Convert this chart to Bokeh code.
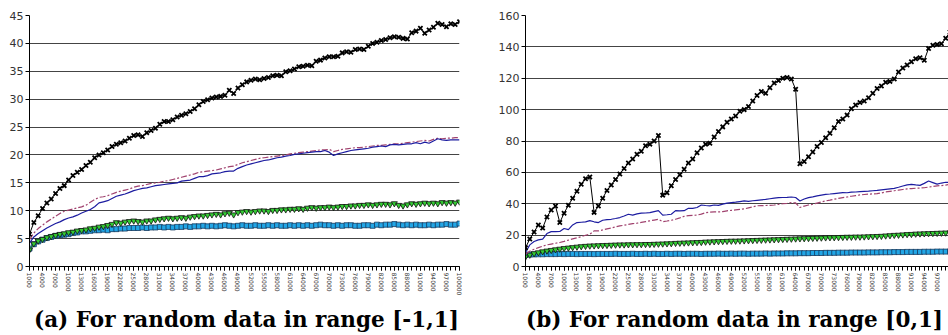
import math
from bokeh.plotting import figure
from bokeh.layouts import row, column
from bokeh.models import Range1d, FixedTicker, NumeralTickFormatter, Div
from bokeh.embed import file_html
from bokeh.resources import INLINE

# categories: array sizes 1000 .. 100000
sizes = list(range(1000, 100001, 1000))
label_ticks = list(range(1000, 100001, 3000))

# ---------- (a) random data in range [-1,1] ----------
a_black = [5.8, 7.9, 9.1, 10.4, 11.4, 12.1, 13.1, 14.0, 14.5, 15.5,
           16.3, 16.9, 17.4, 18.1, 18.7, 19.5, 20.0, 20.4, 20.9, 21.5,
           21.9, 22.2, 22.5, 23.0, 23.5, 23.6, 23.3, 24.0, 24.4, 24.8,
           25.5, 26.0, 26.0, 26.3, 26.8, 27.1, 27.4, 27.8, 28.3, 29.0,
           29.6, 29.9, 30.2, 30.4, 30.5, 30.7, 31.6, 31.0, 32.0, 32.6,
           33.1, 33.4, 33.6, 33.5, 33.7, 33.9, 34.2, 34.3, 34.2, 34.9,
           35.1, 35.4, 35.8, 35.9, 36.1, 36.0, 36.8, 37.0, 37.4, 37.6,
           37.6, 37.7, 38.3, 38.5, 38.4, 38.9, 39.0, 38.9, 39.5, 40.0,
           40.2, 40.5, 40.7, 41.0, 41.2, 41.1, 40.9, 40.8, 41.9, 42.2,
           42.7, 41.8, 42.4, 42.9, 43.6, 43.4, 43.0, 43.5, 43.4, 43.9]
a_blue = [4.2, 5.3, 5.9, 6.4, 6.9, 7.3, 7.7, 8.0, 8.4, 8.7,
          8.9, 9.2, 9.6, 9.9, 10.2, 10.7, 11.4, 11.6, 11.8, 12.2,
          12.6, 12.8, 13.0, 13.3, 13.6, 13.8, 14.0, 14.1, 14.3, 14.5,
          14.6, 14.7, 14.8, 14.9, 15.0, 15.3, 15.4, 15.5, 15.8, 16.1,
          16.1, 16.3, 16.6, 16.7, 16.8, 17.0, 17.1, 17.1, 17.6, 17.9,
          18.2, 18.4, 18.6, 18.8, 19.0, 19.1, 19.3, 19.5, 19.6, 19.8,
          19.9, 20.1, 20.2, 20.3, 20.4, 20.5, 20.6, 20.6, 20.8, 20.5,
          19.9, 20.2, 20.4, 20.6, 20.8, 20.9, 21.0, 21.1, 21.2, 21.4,
          21.5, 21.6, 21.5, 21.8, 21.9, 21.8, 21.9, 22.0, 22.0, 22.2,
          22.0, 22.3, 22.1, 22.5, 22.9, 22.7, 22.6, 22.7, 22.7, 22.7]
a_purple = [4.8, 6.0, 6.8, 7.4, 8.0, 8.5, 9.0, 9.5, 9.9, 10.1,
            10.3, 10.5, 10.7, 11.0, 11.5, 12.0, 12.4, 12.5, 12.7, 13.0,
            13.3, 13.5, 13.7, 13.9, 14.2, 14.4, 14.5, 14.7, 14.9, 15.0,
            15.1, 15.3, 15.4, 15.6, 15.8, 16.0, 16.2, 16.4, 16.6, 16.9,
            17.0, 17.1, 17.2, 17.3, 17.5, 17.7, 17.9, 18.0, 18.3, 18.6,
            18.8, 19.0, 19.2, 19.4, 19.5, 19.6, 19.7, 19.8, 19.9, 20.0,
            20.2, 20.3, 20.4, 20.5, 20.6, 20.7, 20.8, 20.9, 20.9, 21.0,
            20.6, 20.8, 21.0, 21.1, 21.2, 21.3, 21.3, 21.4, 21.5, 21.6,
            21.7, 21.7, 21.8, 21.9, 22.0, 22.0, 22.1, 22.2, 22.3, 22.4,
            22.5, 22.6, 22.5, 22.8, 23.0, 22.9, 23.0, 23.0, 23.1, 23.1]
a_green = [3.0, 4.1, 4.6, 4.9, 5.2, 5.4, 5.6, 5.8, 5.9, 6.1,
           6.2, 6.4, 6.5, 6.6, 6.8, 6.9, 7.1, 7.2, 7.4, 7.6,
           7.9, 7.8, 8.0, 8.1, 8.2, 8.1, 8.0, 8.2, 8.2, 8.4,
           8.5, 8.6, 8.7, 8.6, 8.7, 8.8, 8.7, 8.9, 9.0, 9.1,
           9.1, 9.2, 9.3, 9.4, 9.3, 9.5, 9.6, 9.3, 9.7, 9.8,
           9.9, 9.8, 9.9, 10.0, 10.0, 9.9, 10.1, 10.1, 10.2, 10.2,
           10.3, 10.3, 10.4, 10.3, 10.5, 10.6, 10.5, 10.6, 10.6, 10.7,
           10.6, 10.7, 10.8, 10.8, 10.9, 10.9, 11.0, 11.0, 11.1, 11.0,
           11.1, 11.2, 11.2, 11.1, 11.3, 11.0, 10.9, 11.1, 11.3, 11.2,
           11.3, 11.4, 11.3, 11.4, 11.3, 11.5, 11.4, 11.5, 11.4, 11.6]
a_cyan = [3.2, 4.0, 4.5, 4.8, 5.1, 5.3, 5.5, 5.6, 5.7, 5.8,
          6.0, 6.1, 6.3, 6.3, 6.4, 6.5, 6.5, 6.6, 6.5, 6.7,
          6.7, 6.8, 6.8, 6.9, 6.9, 6.9, 7.0, 6.9, 7.0, 7.0,
          7.1, 7.0, 7.1, 7.0, 7.1, 7.1, 7.2, 7.1, 7.2, 7.2,
          7.3, 7.2, 7.3, 7.2, 7.3, 7.4, 7.3, 7.2, 7.3, 7.4,
          7.3, 7.3, 7.4, 7.3, 7.3, 7.4, 7.3, 7.4, 7.3, 7.3,
          7.4, 7.3, 7.4, 7.3, 7.4, 7.3, 7.4, 7.5, 7.4, 7.4,
          7.3, 7.4, 7.3, 7.4, 7.4, 7.3, 7.3, 7.4, 7.4, 7.3,
          7.5, 7.4, 7.5, 7.5, 7.6, 7.5, 7.4, 7.5, 7.4, 7.5,
          7.4, 7.4, 7.5, 7.4, 7.5, 7.5, 7.6, 7.5, 7.5, 7.7]

# ---------- (b) random data in range [0,1] ----------
b_black = [12.0, 17.5, 22.0, 26.5, 24.5, 31.5, 36.0, 38.5, 28.0, 34.0,
           39.0, 43.5, 48.0, 52.5, 56.0, 57.0, 34.5, 38.5, 43.5, 48.5,
           52.0, 55.5, 59.0, 62.5, 66.0, 68.5, 71.5, 73.5, 77.0, 78.0,
           80.0, 83.5, 45.5, 47.0, 51.5, 55.5, 58.5, 62.0, 66.0, 68.5,
           72.5, 75.5, 78.0, 78.5, 82.5, 86.0, 89.0, 92.0, 94.0, 96.0,
           99.0, 100.0, 102.0, 105.5, 109.0, 111.5, 110.5, 114.0, 117.0, 118.5,
           120.0, 120.5, 119.5, 113.0, 65.5, 67.0, 70.0, 73.0, 76.5, 79.0,
           82.0, 85.0, 88.5, 92.5, 94.0, 96.5, 100.5, 103.0, 104.5, 105.5,
           107.5, 110.5, 113.5, 115.0, 117.5, 118.0, 119.5, 124.0, 126.5, 128.5,
           130.5, 132.5, 133.0, 131.5, 139.0, 141.0, 141.5, 142.0, 145.5, 149.5]
b_blue = [8.9, 13.8, 15.9, 17.0, 17.4, 21.0, 22.2, 22.2, 22.3, 24.2,
          23.5, 26.5, 28.0, 28.2, 28.4, 29.2, 28.5, 28.0, 29.5, 29.9,
          30.1, 30.6, 31.2, 32.2, 33.3, 32.8, 33.5, 34.0, 34.1, 34.3,
          35.0, 35.6, 32.8, 33.0, 33.3, 35.6, 35.4, 35.6, 37.1, 37.0,
          37.6, 39.2, 38.9, 38.7, 39.2, 39.0, 39.8, 40.4, 40.7, 41.0,
          41.4, 41.8, 41.5, 41.9, 42.2, 42.5, 42.8, 43.2, 43.6, 43.9,
          44.0, 44.1, 44.3, 44.0, 41.8, 43.0, 43.9, 44.4, 45.0, 45.5,
          46.0, 46.2, 46.5, 46.8, 47.1, 47.0, 47.4, 47.5, 47.7, 47.9,
          48.0, 48.3, 48.5, 48.9, 49.2, 49.5, 49.8, 50.5, 51.3, 52.0,
          52.4, 52.0, 51.7, 53.0, 54.5, 53.5, 52.5, 53.2, 53.7, 53.6]
b_purple = [8.0, 9.8, 11.0, 12.0, 12.9, 13.8, 14.3, 14.8, 15.3, 16.0,
            16.8, 17.6, 18.3, 19.0, 19.9, 20.6, 22.7, 22.7, 23.3, 24.0,
            24.5, 25.2, 25.9, 26.3, 26.8, 27.3, 27.6, 28.1, 28.6, 29.1,
            29.6, 30.1, 28.6, 29.0, 29.5, 30.1, 31.0, 32.0, 32.4, 32.6,
            32.8, 33.4, 34.3, 34.6, 34.8, 34.8, 35.0, 35.5, 35.8, 36.1,
            36.4, 36.7, 37.4, 38.0, 38.7, 38.8, 38.9, 39.0, 39.2, 39.6,
            40.0, 40.3, 40.7, 40.5, 37.6, 38.5, 39.2, 39.7, 40.4, 41.1,
            41.8, 42.3, 42.9, 43.4, 43.9, 44.3, 44.8, 45.2, 45.6, 45.9,
            46.1, 46.3, 46.4, 46.9, 47.5, 47.9, 48.3, 48.7, 49.1, 49.5,
            49.7, 49.9, 50.0, 50.2, 50.6, 51.0, 51.4, 51.6, 51.9, 52.5]
b_green = [6.2, 7.4, 8.3, 8.9, 9.5, 10.0, 10.4, 10.8, 11.2, 11.6,
           11.9, 12.2, 12.5, 12.8, 13.0, 13.2, 13.3, 13.4, 13.5, 13.6,
           13.7, 13.8, 13.9, 13.9, 14.0, 14.0, 14.1, 14.1, 14.2, 14.2,
           14.3, 14.4, 14.5, 14.6, 14.7, 14.9, 15.0, 15.1, 15.2, 15.3,
           15.4, 15.5, 15.7, 15.8, 15.9, 16.0, 16.1, 16.2, 16.3, 16.3,
           16.4, 16.5, 16.6, 16.7, 16.8, 16.9, 17.0, 17.1, 17.2, 17.3,
           17.4, 17.5, 17.6, 17.7, 17.8, 17.9, 18.0, 18.1, 18.2, 18.3,
           18.4, 18.5, 18.5, 18.6, 18.7, 18.8, 18.8, 18.9, 18.9, 19.0,
           19.1, 19.2, 19.3, 19.4, 19.6, 19.8, 20.0, 20.1, 20.3, 20.5,
           20.6, 20.8, 20.9, 21.0, 21.1, 21.2, 21.3, 21.4, 21.5, 21.6]
b_cyan = [7.4, 7.6, 7.7, 7.8, 7.8, 7.9, 7.9, 7.9, 8.0, 7.9,
          8.0, 8.0, 7.9, 8.0, 8.0, 8.0, 7.9, 8.0, 8.0, 8.0,
          8.0, 8.1, 8.0, 8.0, 8.0, 8.1, 8.0, 8.0, 8.1, 8.0,
          8.1, 8.0, 8.0, 8.1, 8.0, 8.1, 8.1, 8.0, 8.1, 8.1,
          8.1, 8.0, 8.1, 8.1, 8.1, 8.2, 8.1, 8.1, 8.2, 8.1,
          8.2, 8.2, 8.1, 8.2, 8.2, 8.2, 8.3, 8.2, 8.3, 8.3,
          8.3, 8.4, 8.4, 8.4, 8.5, 8.5, 8.5, 8.6, 8.6, 8.6,
          8.7, 8.7, 8.7, 8.8, 8.8, 8.8, 8.9, 8.9, 8.9, 8.9,
          9.0, 9.0, 9.0, 9.1, 9.1, 9.1, 9.2, 9.2, 9.2, 9.3,
          9.3, 9.3, 9.3, 9.4, 9.4, 9.4, 9.5, 9.5, 9.5, 9.6]

a_yticks = [0, 5, 10, 15, 20, 25, 30, 35, 40, 45]
b_yticks = [0, 20, 40, 60, 80, 100, 120, 140, 160]
captions = ["(a) For random data in range [-1,1]",
            "(b) For random data in range [0,1]"]


def make_panel(width, xmax, ymax, yticks, series, border_left, border_right, border_top):
    p = figure(width=width, height=298, output_backend="svg", toolbar_location=None,
               x_range=Range1d(1000, xmax), y_range=Range1d(0, ymax),
               min_border_left=border_left, min_border_right=border_right,
               min_border_top=border_top, min_border_bottom=0)
    p.outline_line_color = None
    p.background_fill_color = "white"
    p.border_fill_color = "white"
    p.xgrid.grid_line_color = None
    p.ygrid.grid_line_color = "#444444"
    p.ygrid.grid_line_width = 1
    p.ygrid.ticker = FixedTicker(ticks=yticks)

    p.yaxis.ticker = FixedTicker(ticks=yticks)
    p.yaxis.axis_line_color = "black"
    p.yaxis.major_tick_line_color = "black"
    p.yaxis.major_tick_out = 4
    p.yaxis.major_tick_in = 0
    p.yaxis.minor_tick_line_color = None
    p.yaxis.major_label_text_font = "DejaVu Sans"
    p.yaxis.major_label_text_font_size = "11px"
    p.yaxis.major_label_text_color = "#333333"
    p.yaxis.major_label_standoff = 2

    p.xaxis.ticker = FixedTicker(ticks=label_ticks, minor_ticks=sizes)
    p.xaxis.formatter = NumeralTickFormatter(format="0")
    p.xaxis.axis_line_color = "black"
    p.xaxis.major_tick_line_color = "black"
    p.xaxis.minor_tick_line_color = "black"
    p.xaxis.major_tick_out = 4
    p.xaxis.major_tick_in = 0
    p.xaxis.minor_tick_out = 4
    p.xaxis.minor_tick_in = 0
    p.xaxis.major_label_orientation = -math.pi / 2
    p.xaxis.major_label_text_font = "DejaVu Sans"
    p.xaxis.major_label_text_font_size = "6px"
    p.xaxis.major_label_text_color = "#333333"
    p.xaxis.major_label_standoff = 2

    black, blue, purple, green, cyan = series
    # light blue squares
    p.line(sizes, cyan, line_color="#1f8fc8", line_width=1)
    p.scatter(sizes, cyan, marker="square", size=5, fill_color="#22a6e6",
              line_color="#163a5e", line_width=0.8)
    # green inverted triangles
    p.line(sizes, green, line_color="#2a9a2a", line_width=1)
    p.scatter(sizes, green, marker="inverted_triangle", size=6, fill_color="#33cc33",
              line_color="#111111", line_width=0.8)
    # purple dash-dot
    p.line(sizes, purple, line_color="#a0426e", line_width=1.2, line_dash="6 2 2 2")
    # dark blue solid
    p.line(sizes, blue, line_color="#1c1ca0", line_width=1.2)
    # black with x markers
    p.line(sizes, black, line_color="black", line_width=1)
    p.scatter(sizes, black, marker="x", size=6, line_color="black", line_width=1.8)
    return p


def caption_div(text, width, pad_left):
    return Div(text=text, width=width, height=37, margin=0,
               styles={"font-family": "DejaVu Serif", "font-weight": "bold",
                       "font-size": "21.5px", "line-height": "25px",
                       "padding-top": "9px", "padding-left": f"{pad_left}px",
                       "white-space": "nowrap", "color": "black",
                       "box-sizing": "border-box", "overflow": "visible"})


pa = make_panel(486, 100000, 45, a_yticks,
                (a_black, a_blue, a_purple, a_green, a_cyan), 29, 27, 15)
pb = make_panel(462, 99650, 160, b_yticks,
                (b_black, b_blue, b_purple, b_green, b_cyan), 39, 0, 14)
da = caption_div(captions[0], 486, 34)
db = caption_div(captions[1], 462, 40)

layout = column(row(pa, pb), row(da, db))
open("out.html", "w").write(file_html(layout, INLINE))
